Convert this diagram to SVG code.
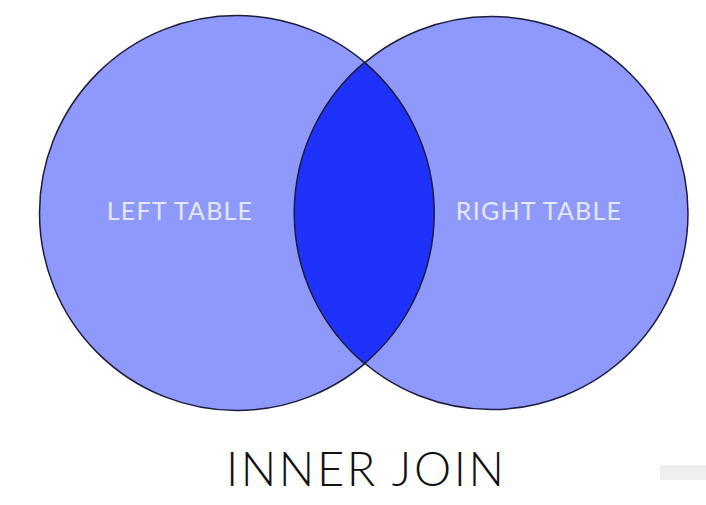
<svg xmlns="http://www.w3.org/2000/svg" width="706" height="505" viewBox="0 0 706 505">
<style>
.circ{fill:#8f99fb;stroke:#1c1c3c;stroke-width:1.5}
.lens{fill:#1e32fb;stroke:#1c1c3c;stroke-width:1.5}
.lbl{font-family:Lato,"Open Sans","Liberation Sans",sans-serif;font-size:25px;fill:#e4e8ff;text-anchor:middle;letter-spacing:1.2px}
.title{font-family:Lato,"Open Sans","Liberation Sans",sans-serif;font-size:47px;fill:#111;text-anchor:middle;font-weight:300;letter-spacing:2.6px}
</style>
<rect width="706" height="505" fill="#fff"/>
<g id="left-table">
<circle class="circ" cx="237" cy="213" r="197.5"/>
</g>
<g id="right-table">
<circle class="circ" cx="491.5" cy="213" r="196.5"/>
</g>
<g id="inner">
<path class="lens" d="M364.5,62.4 A196.5,196.5 0 0 0 364.5,363.6 A197.5,197.5 0 0 0 364.5,62.4 Z"/>
</g>
<g id="labels">
<text class="lbl" x="180" y="220">LEFT TABLE</text>
<text class="lbl" x="539" y="220">RIGHT TABLE</text>
<text class="title" x="366.3" y="485.5">INNER JOIN</text>
</g>
<g id="connectors"/>
<rect x="660" y="465" width="46" height="15" fill="#efefef"/>
</svg>
